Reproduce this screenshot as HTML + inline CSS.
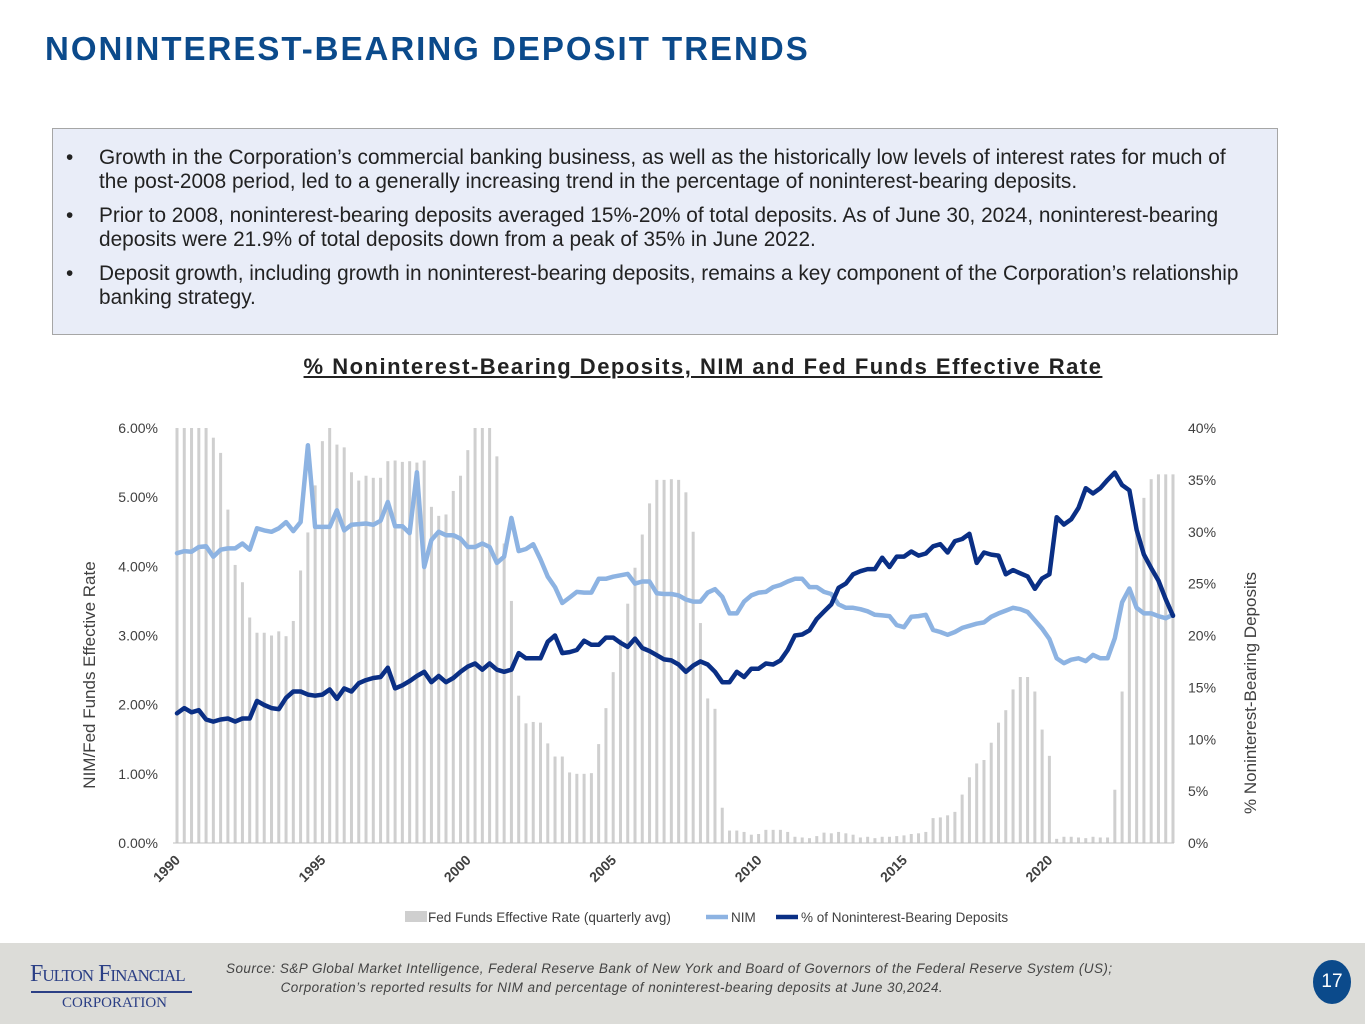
<!DOCTYPE html>
<html><head><meta charset="utf-8">
<style>
body{margin:0;width:1365px;height:1024px;position:relative;background:#fff;font-family:"Liberation Sans",sans-serif;overflow:hidden}
#title{position:absolute;left:45px;top:30px;font-size:33px;font-weight:bold;color:#0b4a8b;letter-spacing:2px}
#box{position:absolute;left:52px;top:128px;width:1224px;height:205px;background:#e9edf8;border:1px solid #a6a6a6}
#box ul{margin:0;padding:17px 20px 0 46px;list-style:none}
#box li{position:relative;font-size:20.8px;line-height:24px;color:#222;margin-bottom:10px}
#box li:before{content:"•";position:absolute;left:-33px;}
#ctitle{position:absolute;left:0;width:1406px;top:354px;text-align:center;font-size:22px;font-weight:bold;color:#222;text-decoration:underline;letter-spacing:1.5px}
#footer{position:absolute;left:0;top:943px;width:1365px;height:81px;background:#dcdcd8}
#logo1{position:absolute;left:30px;top:18px;font-family:"Liberation Serif",serif;font-size:24px;color:#2b3f85;letter-spacing:-1px;font-variant:small-caps}
#logo2{position:absolute;left:62px;top:52px;font-family:"Liberation Serif",serif;font-size:15px;color:#2b3f85}
#logoline{position:absolute;left:31px;top:48px;width:161px;height:2px;background:#2b3f85}
#src{position:absolute;left:226px;top:16px;font-size:13.5px;font-style:italic;color:#444;line-height:19px;letter-spacing:0.45px}
#pg{position:absolute;left:1313px;top:17px;width:38px;height:44px;border-radius:50%;background:#0b4a8b;color:#fff;font-size:19px;text-align:center;line-height:44px}
</style></head><body>
<div id="title">NONINTEREST-BEARING DEPOSIT TRENDS</div>
<div id="box"><ul>
<li>Growth in the Corporation’s commercial banking business, as well as the historically low levels of interest rates for much of the post-2008 period, led to a generally increasing trend in the percentage of noninterest-bearing deposits.</li>
<li>Prior to 2008, noninterest-bearing deposits averaged 15%-20% of total deposits. As of June 30, 2024, noninterest-bearing deposits were 21.9% of total deposits down from a peak of 35% in June 2022.</li>
<li>Deposit growth, including growth in noninterest-bearing deposits, remains a key component of the Corporation’s relationship banking strategy.</li>
</ul></div>
<div id="ctitle">% Noninterest-Bearing Deposits, NIM and Fed Funds Effective Rate</div>
<svg id="chart" width="1365" height="1024" style="position:absolute;left:0;top:0"></svg>
<div id="footer">
<div id="logo1">Fulton Financial</div>
<div id="logoline"></div>
<div id="logo2">CORPORATION</div>
<div id="src">Source: S&amp;P Global Market Intelligence, Federal Reserve Bank of New York and Board of Governors of the Federal Reserve System (US);<br>&nbsp;&nbsp;&nbsp;&nbsp;&nbsp;&nbsp;&nbsp;&nbsp;&nbsp;&nbsp;&nbsp;&nbsp;&nbsp;Corporation’s reported results for NIM and percentage of noninterest-bearing deposits at June 30,2024.</div>
<div id="pg">17</div>
</div>
<script>
const startYear = 1990;
const yearTicks = [1990,1995,2000,2005,2010,2015,2020];
const leftTicks = [0,1,2,3,4,5,6];
const rightTicks = [0,5,10,15,20,25,30,35,40];
const fedFunds = [8.25,8.24,8.16,7.74, 6.43,5.86,5.64,4.82, 4.02,3.77,3.26,3.04, 3.04,3.00,3.06,2.99, 3.21,3.94,4.49,5.17,
5.81,6.00,5.76,5.72, 5.36,5.24,5.31,5.28, 5.28,5.52,5.53,5.51, 5.52,5.50,5.53,4.86, 4.73,4.75,5.09,5.31,
5.68,6.27,6.52,6.47, 5.59,4.33,3.50,2.13, 1.73,1.75,1.74,1.44, 1.25,1.25,1.02,1.00, 1.00,1.01,1.43,1.95,
2.47,2.94,3.46,3.98, 4.46,4.91,5.25,5.25, 5.26,5.25,5.07,4.50, 3.18,2.09,1.94,0.51, 0.18,0.18,0.16,0.12,
0.13,0.19,0.19,0.19, 0.16,0.09,0.08,0.07, 0.10,0.15,0.14,0.16, 0.14,0.12,0.08,0.09, 0.07,0.09,0.09,0.10,
0.11,0.13,0.14,0.16, 0.36,0.37,0.40,0.45, 0.70,0.95,1.15,1.20, 1.45,1.74,1.92,2.22, 2.40,2.40,2.19,1.64,
1.26,0.06,0.09,0.09, 0.08,0.07,0.09,0.08, 0.08,0.77,2.19,3.65, 4.52,4.99,5.26,5.33, 5.33,5.33];
const nim = [4.19,4.22,4.21,4.28, 4.29,4.14,4.24,4.26, 4.26,4.33,4.24,4.55, 4.52,4.50,4.55,4.64, 4.51,4.64,5.75,4.57,
4.57,4.57,4.81,4.52, 4.60,4.61,4.62,4.60, 4.66,4.93,4.58,4.58, 4.48,5.36,3.99,4.38, 4.50,4.45,4.45,4.40,
4.28,4.28,4.33,4.28, 4.05,4.14,4.70,4.22, 4.25,4.32,4.10,3.85, 3.70,3.47,3.55,3.63, 3.62,3.62,3.82,3.82,
3.85,3.87,3.89,3.75, 3.78,3.78,3.61,3.60, 3.60,3.58,3.52,3.49, 3.49,3.62,3.67,3.56, 3.32,3.32,3.49,3.58,
3.62,3.63,3.70,3.73, 3.78,3.82,3.82,3.70, 3.70,3.63,3.60,3.45, 3.40,3.40,3.38,3.35, 3.30,3.29,3.28,3.15,
3.12,3.27,3.28,3.30, 3.08,3.05,3.01,3.05, 3.11,3.14,3.17,3.19, 3.27,3.32,3.36,3.40, 3.38,3.34,3.22,3.10,
2.95,2.67,2.60,2.65, 2.67,2.63,2.72,2.67, 2.67,2.96,3.48,3.68, 3.40,3.32,3.32,3.28, 3.25,3.30];
const deposits = [12.5,13.0,12.6,12.8, 11.9,11.7,11.9,12.0, 11.7,12.0,12.0,13.7, 13.3,13.0,12.9,14.0, 14.6,14.6,14.3,14.2,
14.3,14.8,13.9,14.9, 14.6,15.4,15.7,15.9, 16.0,16.9,14.9,15.2, 15.6,16.1,16.5,15.5, 16.1,15.5,15.9,16.5,
17.0,17.3,16.7,17.3, 16.7,16.5,16.7,18.3, 17.8,17.8,17.8,19.4, 20.0,18.3,18.4,18.6, 19.5,19.1,19.1,19.8,
19.8,19.3,18.9,19.7, 18.8,18.5,18.1,17.7, 17.6,17.2,16.5,17.1, 17.5,17.2,16.5,15.5, 15.5,16.5,16.0,16.8,
16.8,17.3,17.2,17.6, 18.6,20.0,20.1,20.5, 21.6,22.3,23.0,24.6, 25.0,25.9,26.2,26.4, 26.4,27.5,26.6,27.6,
27.6,28.1,27.7,27.9, 28.6,28.8,28.0,29.1, 29.3,29.8,27.0,28.0, 27.8,27.7,25.9,26.3, 26.0,25.7,24.5,25.5,
25.9,31.4,30.7,31.2, 32.3,34.2,33.7,34.2, 35.0,35.7,34.5,34.0, 30.2,27.8,26.5,25.3, 23.5,21.9];

const NS="http://www.w3.org/2000/svg";
const svg=document.getElementById('chart');
const X0=177, PXQ=7.27, Y0=843, YTOP=428;
function xq(i){return X0+i*PXQ;}
function xYear(y){return X0+(y-startYear)*4*PXQ;}
function yL(v){return Y0-(Math.min(v,6)/6)*(Y0-YTOP);}
function yR(v){return Y0-(v/40)*(Y0-YTOP);}
function mk(tag,attrs){const e=document.createElementNS(NS,tag);for(const k in attrs)e.setAttribute(k,attrs[k]);svg.appendChild(e);return e;}
function txt(s,attrs){const e=mk('text',attrs);e.textContent=s;return e;}

fedFunds.forEach((v,i)=>{
  const b=mk('rect',{x:xq(i)-1.5,y:yL(v),width:3,height:Y0-yL(v),fill:'#cfcfcf'});
  
  
});
const ax=mk('line',{x1:X0-4,x2:1174,y1:Y0,y2:Y0,stroke:'#bfbfbf','stroke-width':1});



function line(arr,fy,color,name){
  const d=arr.map((v,i)=>(i?'L':'M')+xq(i).toFixed(1)+','+fy(v).toFixed(1)).join('');
  const p=mk('path',{d:d,fill:'none',stroke:color,'stroke-width':4.5,'stroke-linejoin':'round','stroke-linecap':'round'});
  
  
}
line(nim,yL,'#8db3e2','nim-line');
line(deposits,yR,'#0a2f85','deposits-line');

leftTicks.forEach(v=>{
  const t=txt(v.toFixed(2)+'%',{x:158,y:yL(v)+5,'text-anchor':'end','font-size':14,fill:'#404040'});
  
  
});
rightTicks.forEach(v=>{
  const t=txt(v+'%',{x:1188,y:yR(v)+5,'font-size':14,fill:'#404040'});
  
  
});
yearTicks.forEach(y=>{
  const x=xYear(y);
  const t=txt(String(y),{x:x+4,y:Y0+18,'text-anchor':'end','font-size':14,'font-weight':'bold',fill:'#404040',transform:'rotate(-45 '+(x+4)+' '+(Y0+18)+')'});
  
  
});
const yl=txt('NIM/Fed Funds Effective Rate',{x:95,y:675,'text-anchor':'middle','font-size':17,fill:'#404040',transform:'rotate(-90 95 675)'});


const yr=txt('% Noninterest-Bearing Deposits',{x:1256,y:693,'text-anchor':'middle','font-size':17,fill:'#404040',transform:'rotate(-90 1256 693)'});



const lg=[[405,'rect','#cfcfcf','Fed Funds Effective Rate (quarterly avg)'],[706,'line','#8db3e2','NIM'],[776,'line','#0a2f85','% of Noninterest-Bearing Deposits']];
lg.forEach(l=>{
  if(l[1]==='rect'){const r=mk('rect',{x:l[0],y:911,width:22,height:11,fill:l[2]});}
  else{const r=mk('line',{x1:l[0],x2:l[0]+22,y1:917,y2:917,stroke:l[2],'stroke-width':4.5});}
  const t=txt(l[3],{x:l[0]+(l[1]==='rect'?23:25),y:922,'font-size':13.5,fill:'#404040'});
  
  
});
</script>
</body></html>
